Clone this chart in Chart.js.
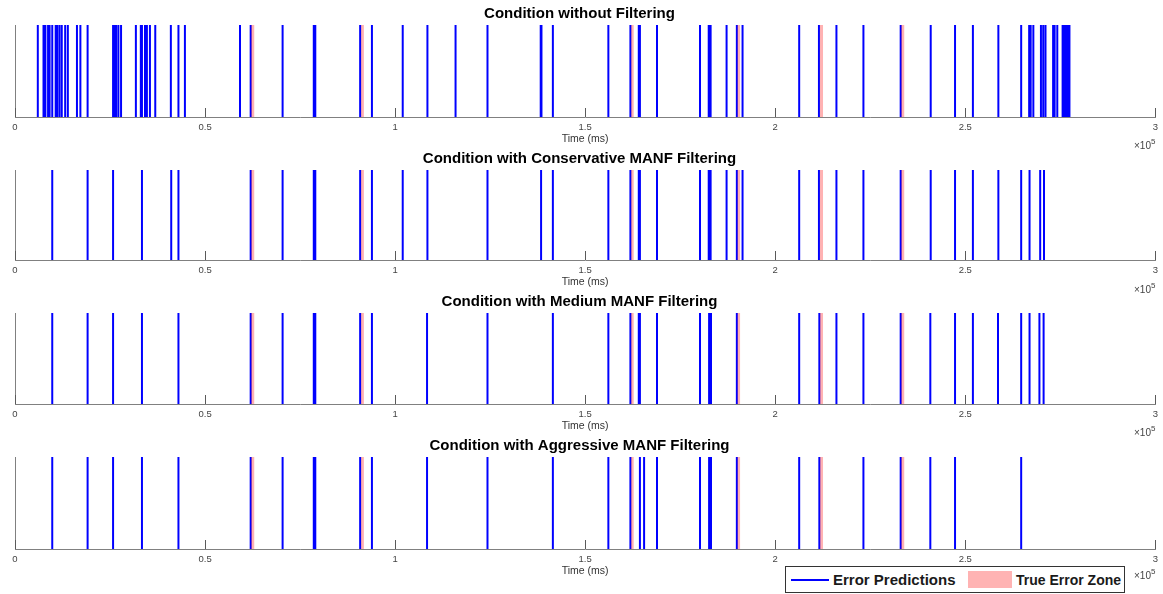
<!DOCTYPE html>
<html>
<head>
<meta charset="utf-8">
<script src="https://cdn.jsdelivr.net/npm/chart.js@4.4.1/dist/chart.umd.min.js"></script>
<style>
    body { margin: 0; background: #fff; width: 1163px; height: 594px; overflow: hidden; position: relative; font-family: "Liberation Sans", Arial, sans-serif; }
    .panel { position: absolute; left: 0; width: 1163px; }
    .expo { position: absolute; left: 1134px; font-size: 10px; color: #444; white-space: nowrap; }
    .expo sup { font-size: 8px; position: relative; top: -1px; }
    .legend { position: absolute; left: 785px; top: 566px; width: 338px; height: 25px; border: 1px solid #333; background: #fff; font-weight: bold; font-size: 15px; color: #1a1a1a; white-space: nowrap; }
    .legend span { position: absolute; }
    .legend .ln { left: 5px; top: 12px; width: 38px; height: 2px; background: #0000ff; }
    .legend .sw { left: 182px; top: 4px; width: 44px; height: 17px; background: #ffb3b3; }
    .legend .t1 { left: 47px; top: 4px; }
    .legend .t2 { left: 230px; top: 4px; font-size: 14px; top: 5px; }
</style>
</head>
<body>
<div class="panel" style="top:0;height:145px"><canvas id="p0"></canvas></div>
<div class="panel" style="top:145px;height:143px"><canvas id="p1"></canvas></div>
<div class="panel" style="top:288px;height:144px"><canvas id="p2"></canvas></div>
<div class="panel" style="top:432px;height:162px"><canvas id="p3"></canvas></div>
<div class="expo" style="top:138px">&times;10<sup>5</sup></div>
<div class="expo" style="top:282px">&times;10<sup>5</sup></div>
<div class="expo" style="top:425px">&times;10<sup>5</sup></div>
<div class="expo" style="top:568px">&times;10<sup>5</sup></div>
<div class="legend"><span class="ln"></span><span class="t1">Error Predictions</span><span class="sw"></span><span class="t2">True Error Zone</span></div>
<script>
// Titles of the four panels
const titles = [
    'Condition without Filtering',
    'Condition with Conservative MANF Filtering',
    'Condition with Medium MANF Filtering',
    'Condition with Aggressive MANF Filtering'
];

// Error prediction times (ms)
const predNone = [
    6000, 7500, 8000, 8700, 9100, 9800, 10700, 11100, 11700, 12300, 13200, 13900,
    16300, 17200, 19100, 25800, 26100, 26600, 27200, 27900, 31800, 33100, 33400,
    34200, 34700, 35500, 36900, 41000, 43000, 44700, 59200, 62000, 70400, 78600,
    79000, 90800, 93900, 102000, 108500, 115900, 124300, 138300, 138500, 141500,
    156100, 161900, 164100, 164400, 168900, 180200, 182500, 183000, 187200, 189900,
    191400, 206300, 211500, 216100, 223200, 233000, 240900, 247300, 252000, 258700,
    264700, 266800, 267200, 267900, 269900, 270500, 271100, 273100, 273500, 274200,
    275600, 275900, 276200, 276500, 276800, 277100, 277400
];
const predConservative = [
    9800, 19100, 25800, 33400, 41100, 43000, 62000, 70400, 78600, 79000, 90800, 93900,
    102000, 108500, 124300, 138400, 141500, 156100, 161900, 164100, 164400, 168900,
    180200, 182500, 183000, 187200, 189900, 191400, 206300, 211500, 216100, 223200,
    233000, 240900, 247300, 252000, 258700, 264700, 266900, 269700, 270700
];
const predMedium = [
    9800, 19100, 25800, 33400, 43000, 62000, 70400, 78600, 79000, 90800, 93900,
    108400, 124300, 141500, 156100, 161900, 164100, 164400, 168900, 180200, 182600,
    183100, 189900, 206300, 211600, 216100, 223200, 233000, 240800, 247300, 252000,
    258600, 264700, 266900, 269500, 270600
];
const predAggressive = [
    9800, 19100, 25800, 33400, 43000, 62000, 70400, 78600, 79000, 90800, 93900,
    108400, 124300, 141500, 156100, 161900, 164400, 165500, 168900, 180200, 182600,
    183100, 189900, 206300, 211600, 223200, 233000, 240800, 247300, 264700
];

// True error zones (ms): start and end of each zone
const zoneStart = [62100, 91000, 162000, 190000, 211700, 233100];
const zoneEnd   = [63000, 91800, 162800, 190800, 212600, 234000];

// X axis
const xMin = 0;
const xMax = 300000;
const xStep = 50000;

const predictions = [predNone, predConservative, predMedium, predAggressive];

// each prediction becomes a vertical segment from y=0 to y=1, split by a gap
function toSegments(times) {
    const pts = [];
    times.forEach(t => {
        pts.push({ x: t, y: 0 }, { x: t, y: 1 }, { x: t, y: null });
    });
    return pts;
}

// each zone becomes a flat top at y=1, filled down to the axis
function toZones() {
    const pts = [];
    zoneStart.forEach((s, i) => {
        pts.push({ x: s, y: 1 }, { x: zoneEnd[i], y: 1 }, { x: zoneEnd[i], y: null });
    });
    return pts;
}

// inward tick marks, MATLAB style
const matlabTicks = {
    id: 'matlabTicks',
    afterDatasetsDraw(chart) {
        const ctx = chart.ctx;
        const x = chart.scales.x;
        const bottom = chart.chartArea.bottom;
        ctx.save();
        ctx.strokeStyle = '#5a5a5a';
        ctx.lineWidth = 1;
        x.ticks.forEach(t => {
            const px = Math.round(x.getPixelForValue(t.value)) + 0.5;
            ctx.beginPath();
            ctx.moveTo(px, bottom);
            ctx.lineTo(px, bottom - 9);
            ctx.stroke();
        });
        ctx.restore();
    }
};

predictions.forEach((times, i) => {
    const last = i === predictions.length - 1;
    new Chart(document.getElementById('p' + i), {
        type: 'line',
        data: {
            datasets: [
                {
                    label: 'True Error Zone',
                    data: toZones(),
                    borderWidth: 0,
                    borderColor: 'rgba(255,0,0,0)',
                    backgroundColor: 'rgba(255,0,0,0.3)',
                    fill: 'origin',
                    pointRadius: 0
                },
                {
                    label: 'Error Predictions',
                    data: toSegments(times),
                    borderColor: '#0000ff',
                    borderWidth: 2,
                    fill: false,
                    pointRadius: 0
                }
            ]
        },
        options: {
            responsive: true,
            maintainAspectRatio: false,
            animation: false,
            spanGaps: false,
            layout: { padding: { left: 0, right: 4, top: 0, bottom: last ? 17 : 0 } },
            plugins: {
                legend: { display: false },
                tooltip: { enabled: false },
                title: {
                    display: true,
                    text: titles[i],
                    color: '#000',
                    font: { family: '"Liberation Sans", Arial, sans-serif', size: 15, weight: 'bold' },
                    padding: { top: 5, bottom: 2 }
                }
            },
            scales: {
                x: {
                    type: 'linear',
                    min: xMin,
                    max: xMax,
                    afterFit(scale) { scale.height = 28; },
                    ticks: {
                        stepSize: xStep,
                        padding: 5,
                        color: '#444',
                        maxRotation: 0,
                        font: { family: '"Liberation Sans", Arial, sans-serif', size: 9.5 },
                        callback: v => String(v / 100000)
                    },
                    grid: { display: false, drawTicks: false },
                    border: { display: true, color: '#808080', width: 1 },
                    title: {
                        display: true,
                        text: 'Time (ms)',
                        color: '#333',
                        padding: 0,
                        font: { family: '"Liberation Sans", Arial, sans-serif', size: 10.5 }
                    }
                },
                y: {
                    min: 0,
                    max: 1,
                    afterFit(scale) { scale.width = 15; },
                    ticks: { display: false },
                    grid: { display: false, drawTicks: false },
                    border: { display: true, color: '#808080', width: 1 }
                }
            }
        },
        plugins: [matlabTicks]
    });
});
</script>
</body>
</html>
